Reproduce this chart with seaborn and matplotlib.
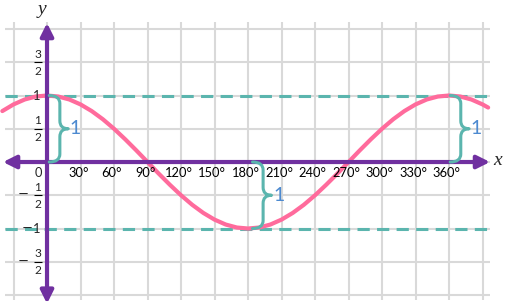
import numpy as np
import pandas as pd
import matplotlib
matplotlib.use("Agg")
import matplotlib.pyplot as plt
import seaborn as sns
from matplotlib.path import Path
from matplotlib.patches import PathPatch
from matplotlib.patches import ArrowStyle

# ---------------- data ----------------
angles = [-40, -30, -20, -10, 0, 10, 20, 30, 40, 50, 60, 70, 80, 90, 100, 110, 120,
          130, 140, 150, 160, 170, 180, 190, 200, 210, 220, 230, 240, 250, 260, 270,
          280, 290, 300, 310, 320, 330, 340, 350, 360, 370, 380, 390, 395]
cos_values = [0.766, 0.866, 0.940, 0.985, 1.0, 0.985, 0.940, 0.866, 0.766, 0.643, 0.5,
              0.342, 0.174, 0.0, -0.174, -0.342, -0.5, -0.643, -0.766, -0.866, -0.940,
              -0.985, -1.0, -0.985, -0.940, -0.866, -0.766, -0.643, -0.5, -0.342, -0.174,
              0.0, 0.174, 0.342, 0.5, 0.643, 0.766, 0.866, 0.940, 0.985, 1.0, 0.985,
              0.940, 0.866, 0.819]
x_tick_values = [30, 60, 90, 120, 150, 180, 210, 240, 270, 300, 330, 360]
x_tick_labels = ["30°", "60°", "90°", "120°", "150°", "180°", "210°", "240°",
                 "270°", "300°", "330°", "360°"]
y_tick_values = [1.5, 1, 0.5, -0.5, -1, -1.5]
y_tick_labels = ["3/2", "1", "1/2", "−1/2", "−1", "−3/2"]
amplitude_levels = [1, -1]
brace_x = [2, 184, 361]
brace_top = [1, 0, 1]
brace_bottom = [0, -1, 0]
brace_labels = ["1", "1", "1"]

# ---------------- style ----------------
sns.set_theme(style="white")
plt.rcParams["font.family"] = ["Lato", "DejaVu Sans"]

PURPLE = "#7030A0"
PINK = "#FF6B9C"
TEAL = "#5BB5AE"
BLUE = "#4D8AD0"
GRID = "#D9D9D9"
TICK_FS = 9.3

fig = plt.figure(figsize=(5.05, 3.08), dpi=100)
ax = fig.add_axes([0, 0, 1, 1])
ax.set_xlim(-42.1, 410.1)
ax.set_ylim(-2.195, 2.436)
ax.axis("off")

# grid
gx = np.arange(-30, 391, 30)
gy = np.arange(-2, 2.01, 0.5)
ax.vlines(gx, -2.08, 2.1, color=GRID, lw=1.5, zorder=1)
ax.hlines(gy, -37.6, 396.8, color=GRID, lw=1.5, zorder=1)

# amplitude dashed lines
ax.hlines(amplitude_levels, -37.6, 396.8, color=TEAL, lw=2.2,
          linestyles=[(0, (4, 2.4))], zorder=2)

# cosine curve
df = pd.DataFrame({"angle": angles, "value": cos_values})
sns.lineplot(data=df, x="angle", y="value", ax=ax, color=PINK, lw=3,
             zorder=3, sort=False)

# axes with arrows
style = ArrowStyle("<|-|>", head_length=0.38, head_width=0.19)
for xy, xyt in [((396.7, 0), (-39.4, 0)), ((0, 2.09), (0, -2.13))]:
    ax.annotate("", xy=xy, xytext=xyt,
                arrowprops=dict(arrowstyle=style, color=PURPLE, lw=3,
                                mutation_scale=20, shrinkA=0, shrinkB=0),
                zorder=5)

# x tick labels
for v, lab in zip(x_tick_values, x_tick_labels):
    ax.text(v - 2, -0.16, lab, ha="center", va="center", fontsize=TICK_FS,
            color="black", zorder=4)
ax.text(-8, -0.16, "0", ha="center", va="center", fontsize=TICK_FS, zorder=4)

# y tick labels (stacked fractions)
FX = -8.1
for v, lab in zip(y_tick_values, y_tick_labels):
    neg = lab.startswith("−")
    body = lab[1:] if neg else lab
    if "/" in body:
        num, den = body.split("/")
        ax.text(FX, v + 0.12, num, ha="center", va="center", fontsize=8.6, zorder=4)
        ax.text(FX, v - 0.135, den, ha="center", va="center", fontsize=8.6, zorder=4)
        ax.plot([FX - 3.2, FX + 3.2], [v, v], color="black", lw=0.8, zorder=4,
                solid_capstyle="butt")
        if neg:
            ax.text(-21, v + 0.01, "−", ha="center", va="center", fontsize=9.5,
                    family="DejaVu Sans", zorder=4)
    else:
        ax.text(-6.3, v, body, ha="right", va="center", fontsize=TICK_FS, zorder=4)
        if neg:
            ax.text(-18, v, "−", ha="center", va="center", fontsize=9.5,
                    family="DejaVu Sans", zorder=4)

# axis names
ax.text(-4.5, 2.3, "y", fontsize=14, style="italic", family="Liberation Serif",
        ha="center", va="center")
ax.text(400, 0.03, "x", fontsize=14, style="italic", family="Liberation Serif",
        ha="left", va="center")

# braces
def brace(x0, ytop, ybot, w=17, h=9.5, r=0.12):
    ym = (ytop + ybot) / 2
    verts = [(x0, ytop), (x0 + h, ytop), (x0 + h, ytop - r),
             (x0 + h, ym + r),
             (x0 + h, ym), (x0 + w, ym),
             (x0 + h, ym), (x0 + h, ym - r),
             (x0 + h, ybot + r),
             (x0 + h, ybot), (x0, ybot)]
    codes = [Path.MOVETO, Path.CURVE3, Path.CURVE3, Path.LINETO,
             Path.CURVE3, Path.CURVE3, Path.CURVE3, Path.CURVE3,
             Path.LINETO, Path.CURVE3, Path.CURVE3]
    ax.add_patch(PathPatch(Path(verts, codes), fill=False, edgecolor=TEAL,
                           lw=2.2, zorder=6, capstyle="round", joinstyle="round"))
    return x0 + w, ym

for bx, bt, bb, bl in zip(brace_x, brace_top, brace_bottom, brace_labels):
    tx, ty = brace(bx, bt, bb)
    ax.text(tx + 1.5, ty, bl, fontsize=14, color=BLUE, ha="left", va="center", zorder=6)

fig.savefig("out.png", dpi=100)
